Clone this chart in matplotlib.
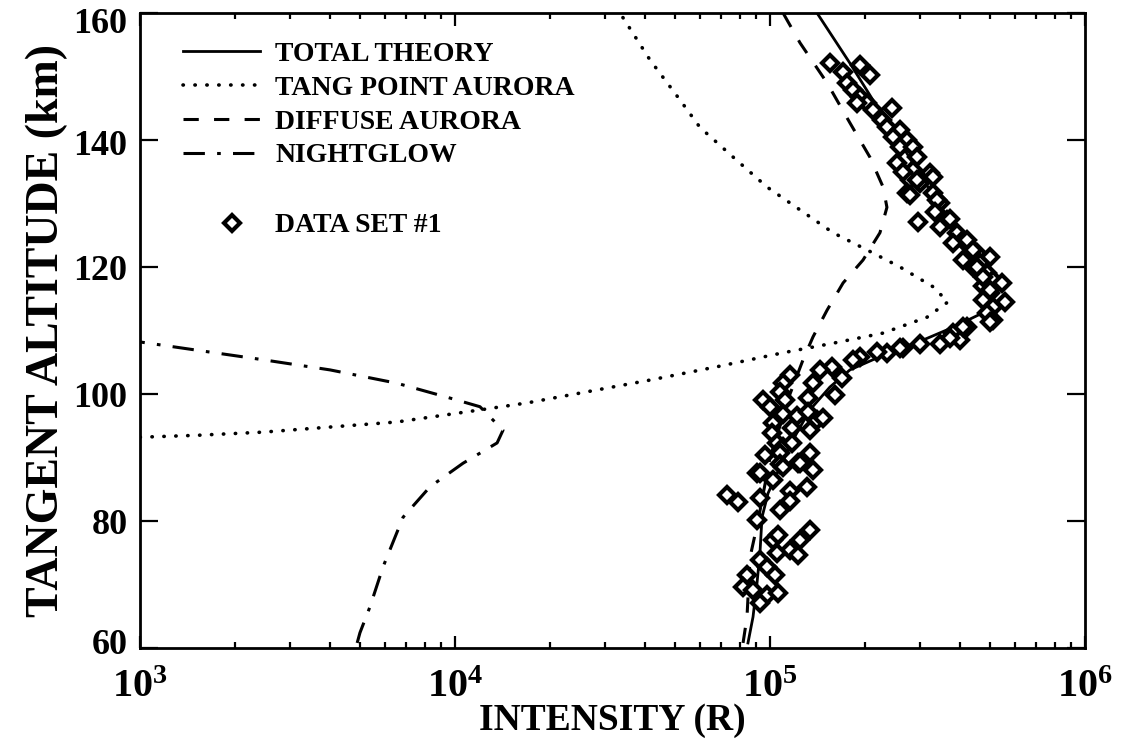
import matplotlib
matplotlib.use("Agg")
import matplotlib.pyplot as plt
import matplotlib.transforms as mtransforms
from matplotlib.ticker import LogLocator, FixedLocator, NullLocator, NullFormatter

plt.rcParams['font.family'] = ['Liberation Serif', 'DejaVu Serif']
plt.rcParams['font.weight'] = 'bold'
plt.rcParams['mathtext.fontset'] = 'custom'
plt.rcParams['mathtext.rm'] = 'Liberation Serif:bold'
plt.rcParams['mathtext.bf'] = 'Liberation Serif:bold'
plt.rcParams['mathtext.it'] = 'Liberation Serif:bold'

# total theory
total_alt = [60.8, 64.9, 70.2, 75.0, 80.6, 84.4, 88.5, 92.8, 97.5, 101.1, 103.8, 106.1,
             108.5, 110.5, 112.8, 115.5, 120.0, 125.0, 130.6, 140.0, 146.0, 152.1, 160.0]
total_int = [85100, 88300, 90900, 92900, 94300, 98600, 107600, 118300, 133800, 154900, 179300, 228300,
             306000, 380700, 474500, 505000, 454000, 397000, 336000, 256000, 214000, 179300, 141000]

# tangent point aurora
tang_alt = [93.2, 93.5, 94.0, 94.8, 95.6, 97.5, 98.6, 102.2, 104.3, 106.5, 108.0, 109.6,
            112.1, 114.5, 116.9, 120.0, 122.7, 125.4, 129.0, 132.6, 137.3, 142.0, 146.3, 152.6, 160.0]
tang_int = [1000, 1517, 2457, 4010, 6540, 12000, 16930, 41600, 67900, 110000, 158500, 228500,
            315000, 367000, 329000, 258700, 203000, 158500, 124500, 97800, 76400, 59900, 51800, 41600, 33400]

# diffuse aurora
diff_alt = [60.8, 64.9, 74.3, 80.0, 90.0, 100.0, 105.4, 109.0, 113.2, 117.5, 121.1, 125.4,
            129.4, 132.6, 137.3, 142.7, 149.0, 155.3, 160.0]
diff_int = [82100, 84500, 86400, 91600, 100000, 115700, 127300, 136900, 151700, 170600, 197300, 223300,
            235000, 228500, 207500, 179300, 151700, 124500, 110000]

# nightglow
night_alt = [60.8, 62.4, 66.5, 72.8, 80.6, 85.4, 89.1, 92.3, 94.3, 98.0, 99.5, 101.7,
             103.8, 105.4, 106.9, 108.2]
night_int = [4890, 4990, 5370, 5910, 6840, 8330, 10600, 13600, 14200, 12000, 9430, 6540,
             4010, 2457, 1517, 1000]

# data set #1
data_alt = [152.1, 150.7, 151.8, 150.2, 149.0, 147.9, 146.8, 145.8, 145.8, 144.7, 145.0, 143.1,
            142.0, 141.6, 140.5, 140.0, 138.9, 138.9, 136.4, 137.3, 135.3, 134.8, 133.7, 133.2,
            131.7, 131.7, 130.1, 128.5, 127.1, 127.4, 126.3, 125.4, 124.3, 123.8, 123.1, 122.2,
            121.6, 121.6, 120.6, 120.0, 119.1, 118.0, 117.5, 117.0, 115.9, 114.5, 113.7, 112.8,
            111.7, 110.5, 109.6, 108.5,
            134.9, 133.7, 134.2, 131.4, 130.6, 128.6, 127.6, 124.3, 122.7, 121.1, 120.0, 118.4,
            116.4, 114.8, 111.3, 110.5, 108.9, 107.9, 107.9, 107.3,
            107.2, 106.4, 106.6, 105.8, 105.4, 102.5, 104.3, 103.8, 101.7, 103.0, 101.7, 100.3,
            99.1, 98.0, 99.1, 99.4, 99.8, 96.9, 96.5, 97.2, 95.9, 96.2, 95.4, 94.6, 94.3, 93.8,
            92.3, 91.6, 92.3, 90.4, 90.7, 90.7, 89.1, 88.0, 87.6, 89.0,
            87.6, 88.5, 89.1, 86.5, 85.4, 84.1, 83.0, 83.7, 84.8, 81.7, 80.1, 83.1, 78.6, 77.0,
            77.0, 77.8, 75.4, 74.6, 74.9, 73.8, 71.5, 72.8, 71.5, 69.6, 69.1, 68.3, 68.6, 67.1]
data_int = [155000, 170500, 193100, 207700, 175500, 183400, 193100, 203200, 188900, 212300, 244000, 226800,
            235200, 258700, 245800, 272300, 258700, 284400, 253000, 292800, 284400, 322100, 278300, 299300,
            272300, 329300, 346500, 338800, 295000, 364800, 346500, 392400, 410000, 381000, 431500, 454000,
            422000, 499000, 464200, 441000, 488600, 510300, 545100, 474400, 499000, 557200, 510300, 488600,
            510300, 422000, 381000, 401000,
            264400, 292800, 329300, 278300, 338800, 334200, 372800, 422000, 441000, 410000, 454000, 474400,
            499000, 474400, 499000, 410000, 372800, 346500, 299300, 264400,
            258700, 235200, 218700, 193100, 183400, 169300, 157400, 144100, 136900, 115700, 110000, 107600,
            95000, 100000, 111600, 132000, 160800, 110000, 121800, 132000, 141000, 147200, 102200, 117400, 134000, 101500,
            105200, 110000, 117400, 96400, 107600, 134000, 122700, 136900, 90900, 107600,
            92900, 110000, 124500, 102200, 131100, 73000, 79100, 92900, 115700, 107600, 90900, 115700, 134000, 124500,
            102200, 106000, 115700, 122700, 105200, 92900, 84500, 97800, 103700, 82100, 88300, 97800, 106000, 92900]

xtick_vals = [1e3, 1e4, 1e5, 1e6]
xtick_text = [r'$\mathbf{10^{3}}$', r'$\mathbf{10^{4}}$', r'$\mathbf{10^{5}}$', r'$\mathbf{10^{6}}$']
ytick_vals = [60, 80, 100, 120, 140, 160]

fig = plt.figure(figsize=(11.23, 7.53), dpi=100)
ax = fig.add_axes([0.1247, 0.1394, 0.8415, 0.8433])

l1, = ax.plot(total_int, total_alt, color='black', lw=2.0, label='TOTAL THEORY')
l2, = ax.plot(tang_int, tang_alt, color='black', lw=2.6, linestyle=(0, (0.1, 3.2)),
              dash_capstyle='round', label='TANG POINT AURORA')
l3, = ax.plot(diff_int, diff_alt, color='black', lw=2.2, linestyle=(0, (5, 5)), label='DIFFUSE AURORA')
l4, = ax.plot(night_int, night_alt, color='black', lw=2.2, linestyle=(0, (7, 4, 1.2, 4)), label='NIGHTGLOW')
d, = ax.plot(data_int, data_alt, linestyle='none', marker='D', ms=8, mfc='white', mec='black',
             mew=3.0, label='DATA SET #1')

ax.set_xscale('log')
ax.set_xlim(1e3, 1e6)
ax.set_ylim(60, 160)

ax.xaxis.set_major_locator(FixedLocator(xtick_vals))
ax.set_xticklabels(xtick_text, fontsize=29)
ax.xaxis.set_minor_locator(LogLocator(base=10, subs=range(2, 10)))
ax.xaxis.set_minor_formatter(NullFormatter())
ax.set_yticks(ytick_vals)
ax.set_yticklabels([str(v) for v in ytick_vals], fontsize=26)
ax.yaxis.set_minor_locator(NullLocator())

ax.tick_params(which='both', direction='in', top=True, right=True, width=1.6)
ax.tick_params(axis='x', which='major', length=9, pad=15)
ax.tick_params(axis='x', which='minor', length=4.5)
ax.tick_params(axis='y', which='major', length=13, pad=9)
for s in ax.spines.values():
    s.set_linewidth(2.0)

# end labels sit slightly inside the axis range in the original
yoffs = [0.07, 0.0, 0.0, 0.0, -0.02, -0.07]
for lab, off in zip(ax.get_yticklabels(), yoffs):
    lab.set_transform(lab.get_transform() + mtransforms.ScaledTranslation(0, off, fig.dpi_scale_trans))

ax.set_xlabel('INTENSITY (R)', fontsize=27, fontweight='bold', labelpad=-2)
ax.set_ylabel('TANGENT ALTITUDE (km)', fontsize=33, fontweight='bold', labelpad=4)

leg1 = ax.legend(handles=[l1, l2, l3, l4], loc='upper left', bbox_to_anchor=(0.0455, 0.955),
                 frameon=False, prop={'family': 'Liberation Serif', 'weight': 'bold', 'size': 20},
                 handlelength=2.77, handletextpad=0.55, labelspacing=0.3, borderpad=0, borderaxespad=0)
ax.add_artist(leg1)
ax.legend(handles=[d], loc='upper left', bbox_to_anchor=(0.0825, 0.685), frameon=False,
          prop={'family': 'Liberation Serif', 'weight': 'bold', 'size': 20},
          handlelength=1.0, handletextpad=1.04, borderpad=0, borderaxespad=0, markerscale=1.0)

fig.savefig('out.png', dpi=100)
